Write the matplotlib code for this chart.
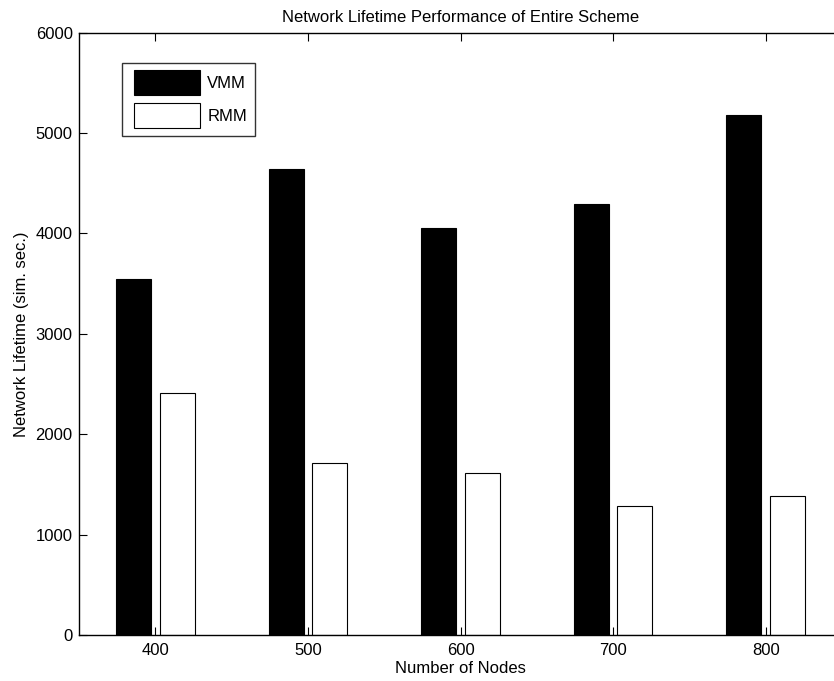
import numpy as np
import matplotlib.pyplot as plt
from matplotlib.patches import Rectangle
from matplotlib.container import BarContainer
from matplotlib.legend_handler import HandlerPatch, update_from_first_child

plt.rcParams['font.family'] = ['Liberation Sans', 'DejaVu Sans']

# data
nodes = [400, 500, 600, 700, 800]
vmm = [3545, 4640, 4055, 4295, 5180]
rmm = [2412, 1715, 1617, 1288, 1380]
series_names = ['VMM', 'RMM']

fig = plt.figure(figsize=(8.34, 6.81), dpi=100)
# axes run slightly past the right edge, as in the cropped original
ax = fig.add_axes([79 / 834, 46 / 681, 763 / 834, 602.3 / 681])

x = np.array(nodes, dtype=float)
step = 100.0
group_w = 2 / 3.5          # matlab grouped-bar geometry
bar_w = 0.8 * group_w / 2 * step
off = group_w / 4 * step

ax.bar(x - off, vmm, width=bar_w, color='black', edgecolor='black',
       linewidth=0.8, label=series_names[0], zorder=2)
ax.bar(x + off, rmm, width=bar_w, color='white', edgecolor='black',
       linewidth=0.8, label=series_names[1], zorder=2)

ax.set_xlim(350, 850)
ax.set_ylim(0, 6000)
ax.set_xticks(nodes)
ax.set_yticks(np.arange(0, 6001, 1000))

ax.tick_params(direction='in', top=True, right=True, length=5.5,
               width=0.8, labelsize=12, pad=6)
ax.tick_params(axis='y', pad=4.5)
for s in ax.spines.values():
    s.set_linewidth(1.0)

ax.set_title('Network Lifetime Performance of Entire Scheme', fontsize=12, pad=8)
ax.set_xlabel('Number of Nodes', fontsize=12, labelpad=2)
ax.set_ylabel('Network Lifetime (sim. sec.)', fontsize=12, labelpad=5)


def legend_box(legend, orig_handle, xdescent, ydescent, width, height, fontsize):
    # leave a little extra room on the left like the matlab legend
    shift = 0.3 * fontsize
    return Rectangle((-xdescent + shift, -ydescent), width - shift, height)


leg = ax.legend(loc='upper left', bbox_to_anchor=(0.056, 0.950),
                borderaxespad=0, fancybox=False, fontsize=12,
                handlelength=4.26, handleheight=1.93, handletextpad=0.42,
                labelspacing=0.45, borderpad=0.46,
                handler_map={BarContainer: HandlerPatch(
                    patch_func=legend_box, update_func=update_from_first_child)})
leg.get_frame().set_edgecolor('black')
leg.get_frame().set_linewidth(1.0)

fig.savefig('out.png', dpi=100)
